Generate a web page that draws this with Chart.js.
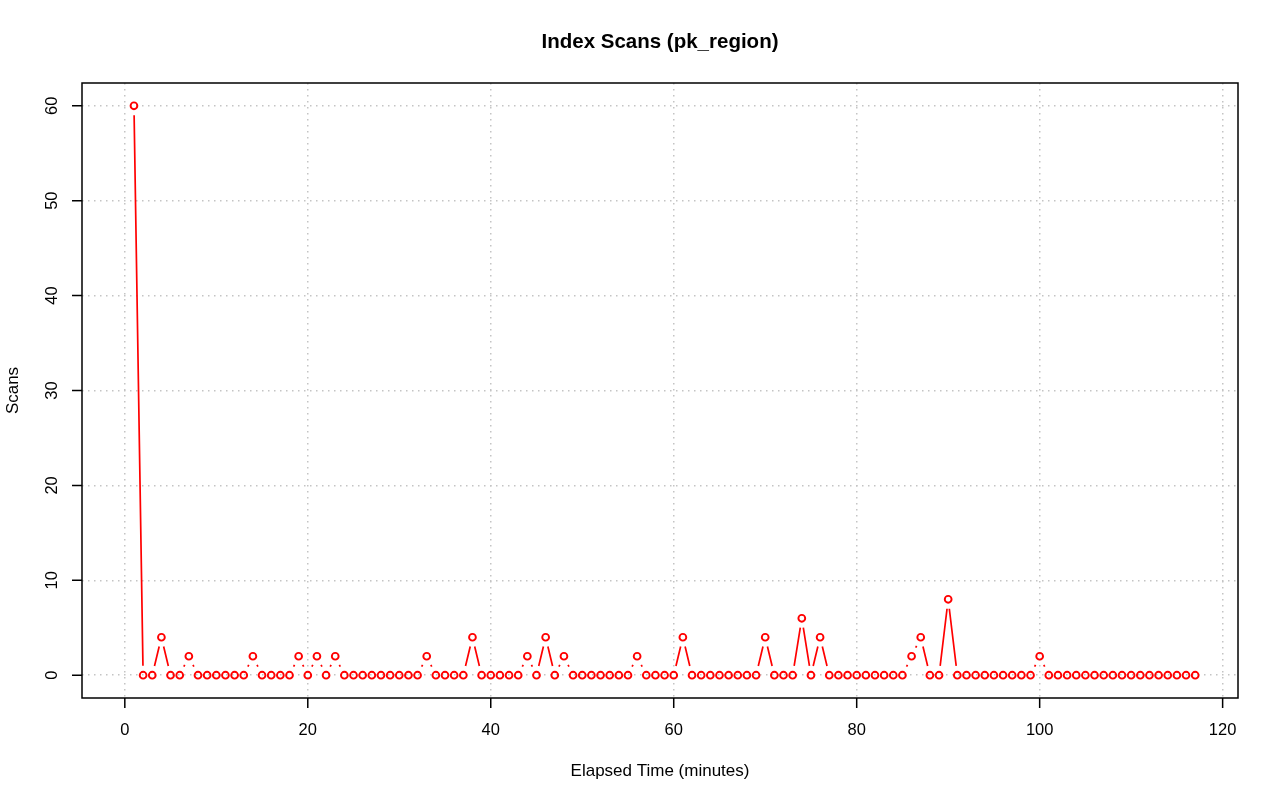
<!DOCTYPE html>
<html>
<head>
<meta charset="utf-8">
<title>Index Scans (pk_region)</title>
<script src="https://cdn.jsdelivr.net/npm/chart.js@4/dist/chart.umd.min.js"></script>
<style>
	html, body { margin: 0; padding: 0; background: #fff; }
	#wrap { width: 1280px; height: 801px; position: relative; }
</style>
</head>
<body>
<div id="wrap"><canvas id="scans-chart"></canvas></div>
<script>
// chart data
const minutes = [
	1, 2, 3, 4, 5, 6, 7, 8, 9, 10, 11, 12, 13, 14, 15, 16, 17, 18, 19, 20,
	21, 22, 23, 24, 25, 26, 27, 28, 29, 30, 31, 32, 33, 34, 35, 36, 37, 38, 39, 40,
	41, 42, 43, 44, 45, 46, 47, 48, 49, 50, 51, 52, 53, 54, 55, 56, 57, 58, 59, 60,
	61, 62, 63, 64, 65, 66, 67, 68, 69, 70, 71, 72, 73, 74, 75, 76, 77, 78, 79, 80,
	81, 82, 83, 84, 85, 86, 87, 88, 89, 90, 91, 92, 93, 94, 95, 96, 97, 98, 99, 100,
	101, 102, 103, 104, 105, 106, 107, 108, 109, 110, 111, 112, 113, 114, 115, 116, 117,
];
const scans = [
	60, 0, 0, 4, 0, 0, 2, 0, 0, 0, 0, 0, 0, 2, 0, 0, 0, 0, 2, 0,
	2, 0, 2, 0, 0, 0, 0, 0, 0, 0, 0, 0, 2, 0, 0, 0, 0, 4, 0, 0,
	0, 0, 0, 2, 0, 4, 0, 2, 0, 0, 0, 0, 0, 0, 0, 2, 0, 0, 0, 0,
	4, 0, 0, 0, 0, 0, 0, 0, 0, 4, 0, 0, 0, 6, 0, 4, 0, 0, 0, 0,
	0, 0, 0, 0, 0, 2, 4, 0, 0, 8, 0, 0, 0, 0, 0, 0, 0, 0, 0, 2,
	0, 0, 0, 0, 0, 0, 0, 0, 0, 0, 0, 0, 0, 0, 0, 0, 0,
];
const xTicks = [ 0, 20, 40, 60, 80, 100, 120 ];
const yTicks = [ 0, 10, 20, 30, 40, 50, 60 ];

const FONT = '"Liberation Sans", Arial, Helvetica, sans-serif';
const RED = '#ff0000';

// lines between points with a gap round each point, like R type="b"
const gappedLines = {
	id: 'gappedLines',
	afterDatasetsDraw( chart ) {
		const pts = chart.getDatasetMeta( 0 ).data;
		const gap = 9.5;
		const c = chart.ctx;
		c.save();
		c.strokeStyle = RED;
		c.lineWidth = 1.7;
		c.beginPath();
		for ( let i = 1; i < pts.length; i++ ) {
			const a = pts[ i - 1 ];
			const b = pts[ i ];
			const dx = b.x - a.x;
			const dy = b.y - a.y;
			const len = Math.sqrt( dx * dx + dy * dy );
			if ( len <= 2 * gap ) {
				continue;
			}
			const ux = dx / len;
			const uy = dy / len;
			c.moveTo( a.x + ux * gap, a.y + uy * gap );
			c.lineTo( b.x - ux * gap, b.y - uy * gap );
		}
		c.stroke();
		c.restore();
	},
};

// box, tick marks, tick labels and titles drawn R style
const rFrame = {
	id: 'rFrame',
	afterDraw( chart ) {
		const c = chart.ctx;
		const area = chart.chartArea;
		const xs = chart.scales.x;
		const ys = chart.scales.y;
		c.save();
		c.strokeStyle = '#000';
		c.lineWidth = 1.5;
		c.strokeRect( area.left, area.top, area.right - area.left, area.bottom - area.top );

		c.fillStyle = '#000';
		c.font = '16.5px ' + FONT;
		c.textAlign = 'center';
		c.textBaseline = 'alphabetic';
		c.beginPath();
		xTicks.forEach( v => {
			const px = xs.getPixelForValue( v );
			c.moveTo( px, area.bottom );
			c.lineTo( px, area.bottom + 10 );
			c.fillText( String( v ), px, area.bottom + 37 );
		} );
		yTicks.forEach( v => {
			const py = ys.getPixelForValue( v );
			c.moveTo( area.left, py );
			c.lineTo( area.left - 10, py );
		} );
		c.stroke();
		yTicks.forEach( v => {
			const py = ys.getPixelForValue( v );
			c.save();
			c.translate( area.left - 25, py );
			c.rotate( -Math.PI / 2 );
			c.fillText( String( v ), 0, 0 );
			c.restore();
		} );

		const midX = ( area.left + area.right ) / 2;
		const midY = ( area.top + area.bottom ) / 2;
		c.font = '17px ' + FONT;
		c.fillText( 'Elapsed Time (minutes)', midX, 776 );
		c.save();
		c.translate( 18, midY );
		c.rotate( -Math.PI / 2 );
		c.fillText( 'Scans', 0, 0 );
		c.restore();

		c.font = 'bold 20.5px ' + FONT;
		c.fillText( 'Index Scans (pk_region)', midX, 48 );
		c.restore();
	},
};

const points = minutes.map( ( m, i ) => ( { x: m, y: scans[ i ] } ) );

// eslint-disable-next-line no-new
new Chart( document.getElementById( 'scans-chart' ), {
	type: 'line',
	data: {
		datasets: [
			{
				label: 'Scans',
				data: points,
				showLine: false,
				pointStyle: 'circle',
				pointRadius: 3.4,
				pointBorderWidth: 1.9,
				pointBorderColor: RED,
				pointBackgroundColor: 'rgba(0,0,0,0)',
			},
		],
	},
	options: {
		responsive: true,
		maintainAspectRatio: false,
		animation: false,
		devicePixelRatio: 1,
		layout: {
			padding: { left: 82, right: 42, top: 83, bottom: 103 },
		},
		plugins: {
			legend: { display: false },
			title: { display: false },
			tooltip: { enabled: false },
		},
		scales: {
			x: {
				type: 'linear',
				min: -4.68,
				max: 121.68,
				afterBuildTicks: scale => {
					scale.ticks = xTicks.map( v => ( { value: v } ) );
				},
				ticks: { display: false },
				grid: { color: '#c4c4c4', lineWidth: 1.5, drawTicks: false },
				border: { display: false, dash: [ 1.5, 4.5 ] },
			},
			y: {
				type: 'linear',
				min: -2.4,
				max: 62.4,
				afterBuildTicks: scale => {
					scale.ticks = yTicks.map( v => ( { value: v } ) );
				},
				ticks: { display: false },
				grid: { color: '#c4c4c4', lineWidth: 1.5, drawTicks: false },
				border: { display: false, dash: [ 1.5, 4.5 ] },
			},
		},
	},
	plugins: [ gappedLines, rFrame ],
} );
</script>
</body>
</html>
